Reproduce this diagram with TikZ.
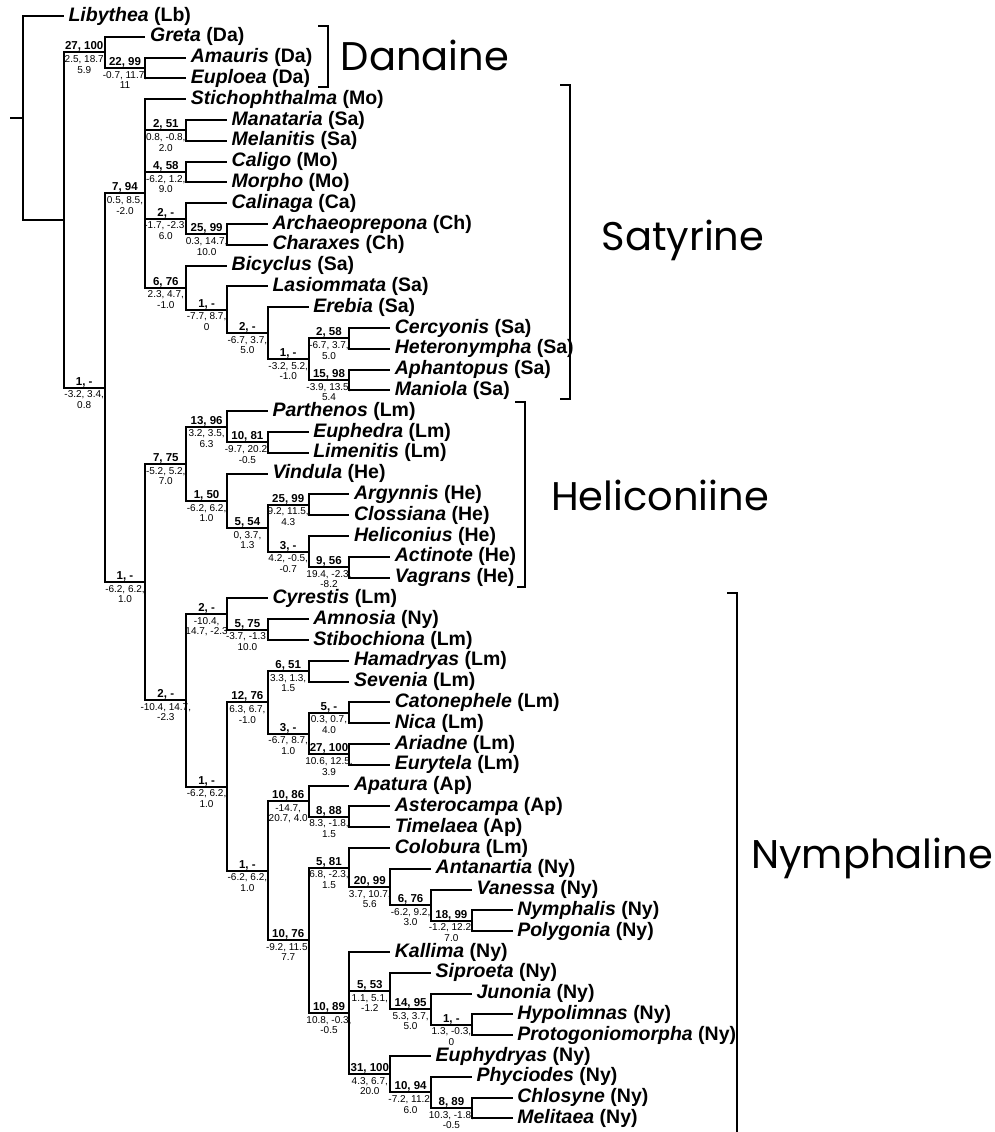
\documentclass[tikz,border=0pt]{standalone}
\usepackage{fontspec}
\setmainfont{Liberation Sans}
\newfontfamily\cladefont{Poppins}
\usetikzlibrary{calc}
\tikzset{
  br/.style={line width=2pt, line join=miter},
  bk/.style={line width=2pt},
  leaf/.style={anchor=west, inner xsep=4.5pt, inner ysep=0pt, font=\fontsize{19.5}{20}\selectfont\bfseries},
  sup/.style={anchor=base, inner sep=0pt, yshift=2.5pt, font=\fontsize{11.5}{12}\selectfont\bfseries},
  num/.style={anchor=north, inner sep=0pt, yshift=-3pt, align=center, font=\fontsize{10}{10.5}\selectfont},
  clade/.style={inner sep=0pt, font=\cladefont\fontsize{40}{40}\selectfont}
}
\newcommand\lf[5]{\node[leaf] (#1) at ({23+40.8*#2},{16+20.8*(#3-1)}) {\textit{#4} (#5)};}
\newcommand\nd[4]{\path ($(#3)!.5!(#4)$) coordinate (m#1); \coordinate (#1) at (X#2 |- m#1);}
\newcommand\ed[2]{\draw[br] (#1) |- (#2);}
\newcommand\lab[3]{\path (#1) ++(-20.4,0) node[sup] (#1s) {#2} node[num] (#1n) {#3};}
\begin{document}
\begin{tikzpicture}[x=1pt,y=-1pt]
\useasboundingbox (0,0) rectangle (995,1132);
\fill[white] (0,0) rectangle (995,1132);
\foreach \k in {0,...,12} {\coordinate (X\k) at ({23+40.8*\k},0);}
% leaves
\lf{libythea}{1}{1}{Libythea}{Lb}
\lf{greta}{3}{2}{Greta}{Da}
\lf{amauris}{4}{3}{Amauris}{Da}
\lf{euploea}{4}{4}{Euploea}{Da}
\lf{stich}{4}{5}{Stichophthalma}{Mo}
\lf{manataria}{5}{6}{Manataria}{Sa}
\lf{melanitis}{5}{7}{Melanitis}{Sa}
\lf{caligo}{5}{8}{Caligo}{Mo}
\lf{morpho}{5}{9}{Morpho}{Mo}
\lf{calinaga}{5}{10}{Calinaga}{Ca}
\lf{archaeo}{6}{11}{Archaeoprepona}{Ch}
\lf{charaxes}{6}{12}{Charaxes}{Ch}
\lf{bicyclus}{5}{13}{Bicyclus}{Sa}
\lf{lasiommata}{6}{14}{Lasiommata}{Sa}
\lf{erebia}{7}{15}{Erebia}{Sa}
\lf{cercyonis}{9}{16}{Cercyonis}{Sa}
\lf{heteronympha}{9}{17}{Heteronympha}{Sa}
\lf{aphantopus}{9}{18}{Aphantopus}{Sa}
\lf{maniola}{9}{19}{Maniola}{Sa}
\lf{parthenos}{6}{20}{Parthenos}{Lm}
\lf{euphedra}{7}{21}{Euphedra}{Lm}
\lf{limenitis}{7}{22}{Limenitis}{Lm}
\lf{vindula}{6}{23}{Vindula}{He}
\lf{argynnis}{8}{24}{Argynnis}{He}
\lf{clossiana}{8}{25}{Clossiana}{He}
\lf{heliconius}{8}{26}{Heliconius}{He}
\lf{actinote}{9}{27}{Actinote}{He}
\lf{vagrans}{9}{28}{Vagrans}{He}
\lf{cyrestis}{6}{29}{Cyrestis}{Lm}
\lf{amnosia}{7}{30}{Amnosia}{Ny}
\lf{stibochiona}{7}{31}{Stibochiona}{Lm}
\lf{hamadryas}{8}{32}{Hamadryas}{Lm}
\lf{sevenia}{8}{33}{Sevenia}{Lm}
\lf{catonephele}{9}{34}{Catonephele}{Lm}
\lf{nica}{9}{35}{Nica}{Lm}
\lf{ariadne}{9}{36}{Ariadne}{Lm}
\lf{eurytela}{9}{37}{Eurytela}{Lm}
\lf{apatura}{8}{38}{Apatura}{Ap}
\lf{asterocampa}{9}{39}{Asterocampa}{Ap}
\lf{timelaea}{9}{40}{Timelaea}{Ap}
\lf{colobura}{9}{41}{Colobura}{Lm}
\lf{antanartia}{10}{42}{Antanartia}{Ny}
\lf{vanessa}{11}{43}{Vanessa}{Ny}
\lf{nymphalis}{12}{44}{Nymphalis}{Ny}
\lf{polygonia}{12}{45}{Polygonia}{Ny}
\lf{kallima}{9}{46}{Kallima}{Ny}
\lf{siproeta}{10}{47}{Siproeta}{Ny}
\lf{junonia}{11}{48}{Junonia}{Ny}
\lf{hypolimnas}{12}{49}{Hypolimnas}{Ny}
\lf{protogonio}{12}{50}{Protogoniomorpha}{Ny}
\lf{euphydryas}{10}{51}{Euphydryas}{Ny}
\lf{phyciodes}{11}{52}{Phyciodes}{Ny}
\lf{chlosyne}{12}{53}{Chlosyne}{Ny}
\lf{melitaea}{12}{54}{Melitaea}{Ny}
% internal nodes (post-order)
\nd{dA}{3}{amauris}{euploea}
\nd{dB}{2}{greta}{dA}
\nd{sA}{4}{manataria}{melanitis}
\nd{sB}{4}{caligo}{morpho}
\nd{sC}{5}{archaeo}{charaxes}
\nd{sD}{4}{calinaga}{sC}
\nd{sE}{8}{cercyonis}{heteronympha}
\nd{sF}{8}{aphantopus}{maniola}
\nd{sG}{7}{sE}{sF}
\nd{sH}{6}{erebia}{sG}
\nd{sI}{5}{lasiommata}{sH}
\nd{sJ}{4}{bicyclus}{sI}
\nd{sK}{3}{stich}{sJ}
\nd{hA}{6}{euphedra}{limenitis}
\nd{hB}{5}{parthenos}{hA}
\nd{hC}{7}{argynnis}{clossiana}
\nd{hD}{8}{actinote}{vagrans}
\nd{hE}{7}{heliconius}{hD}
\nd{hF}{6}{hC}{hE}
\nd{hG}{5}{vindula}{hF}
\nd{hH}{4}{hB}{hG}
\nd{yA}{6}{amnosia}{stibochiona}
\nd{yB}{5}{cyrestis}{yA}
\nd{yC}{7}{hamadryas}{sevenia}
\nd{yD}{8}{catonephele}{nica}
\nd{yE}{8}{ariadne}{eurytela}
\nd{yF}{7}{yD}{yE}
\nd{yG}{6}{yC}{yF}
\nd{yH}{8}{asterocampa}{timelaea}
\nd{yI}{7}{apatura}{yH}
\nd{yJ}{11}{nymphalis}{polygonia}
\nd{yK}{10}{vanessa}{yJ}
\nd{yL}{9}{antanartia}{yK}
\nd{yM}{8}{colobura}{yL}
\nd{yN}{11}{hypolimnas}{protogonio}
\nd{yO}{10}{junonia}{yN}
\nd{yP}{9}{siproeta}{yO}
\nd{yQ}{11}{chlosyne}{melitaea}
\nd{yR}{10}{phyciodes}{yQ}
\nd{yS}{9}{euphydryas}{yR}
\nd{yT}{8}{kallima}{yS}
\nd{yU}{7}{yM}{yT}
\nd{yV}{6}{yI}{yU}
\nd{yW}{5}{yG}{yV}
\nd{yX}{4}{yB}{yW}
\nd{cA}{3}{hH}{yX}
\nd{bA}{2}{sK}{cA}
\nd{aA}{1}{dB}{bA}
\nd{root}{0}{libythea}{aA}
\coordinate (stub) at ($(root)+(-13,0)$);
% edges
\draw[br] (stub) -- (root);
\ed{root}{libythea}\ed{root}{aA}
\ed{aA}{dB}\ed{aA}{bA}
\ed{dB}{greta}\ed{dB}{dA}
\ed{dA}{amauris}\ed{dA}{euploea}
\ed{bA}{sK}\ed{bA}{cA}
\ed{sK}{stich}\ed{sK}{sA}\ed{sK}{sB}\ed{sK}{sD}\ed{sK}{sJ}
\ed{sA}{manataria}\ed{sA}{melanitis}
\ed{sB}{caligo}\ed{sB}{morpho}
\ed{sD}{calinaga}\ed{sD}{sC}
\ed{sC}{archaeo}\ed{sC}{charaxes}
\ed{sJ}{bicyclus}\ed{sJ}{sI}
\ed{sI}{lasiommata}\ed{sI}{sH}
\ed{sH}{erebia}\ed{sH}{sG}
\ed{sG}{sE}\ed{sG}{sF}
\ed{sE}{cercyonis}\ed{sE}{heteronympha}
\ed{sF}{aphantopus}\ed{sF}{maniola}
\ed{cA}{hH}\ed{cA}{yX}
\ed{hH}{hB}\ed{hH}{hG}
\ed{hB}{parthenos}\ed{hB}{hA}
\ed{hA}{euphedra}\ed{hA}{limenitis}
\ed{hG}{vindula}\ed{hG}{hF}
\ed{hF}{hC}\ed{hF}{hE}
\ed{hC}{argynnis}\ed{hC}{clossiana}
\ed{hE}{heliconius}\ed{hE}{hD}
\ed{hD}{actinote}\ed{hD}{vagrans}
\ed{yX}{yB}\ed{yX}{yW}
\ed{yB}{cyrestis}\ed{yB}{yA}
\ed{yA}{amnosia}\ed{yA}{stibochiona}
\ed{yW}{yG}\ed{yW}{yV}
\ed{yG}{yC}\ed{yG}{yF}
\ed{yC}{hamadryas}\ed{yC}{sevenia}
\ed{yF}{yD}\ed{yF}{yE}
\ed{yD}{catonephele}\ed{yD}{nica}
\ed{yE}{ariadne}\ed{yE}{eurytela}
\ed{yV}{yI}\ed{yV}{yU}
\ed{yI}{apatura}\ed{yI}{yH}
\ed{yH}{asterocampa}\ed{yH}{timelaea}
\ed{yU}{yM}\ed{yU}{yT}
\ed{yM}{colobura}\ed{yM}{yL}
\ed{yL}{antanartia}\ed{yL}{yK}
\ed{yK}{vanessa}\ed{yK}{yJ}
\ed{yJ}{nymphalis}\ed{yJ}{polygonia}
\ed{yT}{kallima}\ed{yT}{yP}\ed{yT}{yS}
\ed{yP}{siproeta}\ed{yP}{yO}
\ed{yO}{junonia}\ed{yO}{yN}
\ed{yN}{hypolimnas}\ed{yN}{protogonio}
\ed{yS}{euphydryas}\ed{yS}{yR}
\ed{yR}{phyciodes}\ed{yR}{yQ}
\ed{yQ}{chlosyne}\ed{yQ}{melitaea}
% branch labels
\lab{dB}{27, 100}{2.5, 18.7\\5.9}
\lab{dA}{22, 99}{-0.7, 11.7,\\11}
\lab{bA}{1, -}{-3.2, 3.4,\\0.8}
\lab{sK}{7, 94}{0.5, 8.5,\\-2.0}
\lab{sA}{2, 51}{0.8, -0.8,\\2.0}
\lab{sB}{4, 58}{-6.2, 1.2,\\9.0}
\lab{sD}{2, -}{-1.7, -2.3,\\6.0}
\lab{sC}{25, 99}{0.3, 14.7,\\10.0}
\lab{sJ}{6, 76}{2.3, 4.7,\\-1.0}
\lab{sI}{1, -}{-7.7, 8.7,\\0}
\lab{sH}{2, -}{-6.7, 3.7,\\5.0}
\lab{sG}{1, -}{-3.2, 5.2,\\-1.0}
\lab{sE}{2, 58}{-6.7, 3.7,\\5.0}
\lab{sF}{15, 98}{-3.9, 13.5,\\5.4}
\lab{cA}{1, -}{-6.2, 6.2,\\1.0}
\lab{hH}{7, 75}{-5.2, 5.2,\\7.0}
\lab{hB}{13, 96}{3.2, 3.5,\\6.3}
\lab{hA}{10, 81}{-9.7, 20.2,\\-0.5}
\lab{hG}{1, 50}{-6.2, 6.2,\\1.0}
\lab{hF}{5, 54}{0, 3.7,\\1.3}
\lab{hC}{25, 99}{9.2, 11.5,\\4.3}
\lab{hE}{3, -}{4.2, -0.5,\\-0.7}
\lab{hD}{9, 56}{19.4, -2.3,\\-8.2}
\lab{yX}{2, -}{-10.4, 14.7,\\-2.3}
\lab{yB}{2, -}{-10.4,\\14.7, -2.3}
\lab{yA}{5, 75}{-3.7, -1.3,\\10.0}
\lab{yW}{1, -}{-6.2, 6.2,\\1.0}
\lab{yG}{12, 76}{6.3, 6.7,\\-1.0}
\lab{yC}{6, 51}{3.3, 1.3,\\1.5}
\lab{yF}{3, -}{-6.7, 8.7,\\1.0}
\lab{yD}{5, -}{0.3, 0.7,\\4.0}
\lab{yE}{27, 100}{10.6, 12.5,\\3.9}
\lab{yV}{1, -}{-6.2, 6.2,\\1.0}
\lab{yI}{10, 86}{-14.7,\\20.7, 4.0}
\lab{yH}{8, 88}{8.3, -1.8,\\1.5}
\lab{yU}{10, 76}{-9.2, 11.5,\\7.7}
\lab{yM}{5, 81}{6.8, -2.3,\\1.5}
\lab{yL}{20, 99}{3.7, 10.7,\\5.6}
\lab{yK}{6, 76}{-6.2, 9.2,\\3.0}
\lab{yJ}{18, 99}{-1.2, 12.2,\\7.0}
\lab{yT}{10, 89}{10.8, -0.3,\\-0.5}
\lab{yP}{5, 53}{1.1, 5.1,\\-1.2}
\lab{yO}{14, 95}{5.3, 3.7,\\5.0}
\lab{yN}{1, -}{1.3, -0.3,\\0}
\lab{yS}{31, 100}{4.3, 6.7,\\20.0}
\lab{yR}{10, 94}{-7.2, 11.2,\\6.0}
\lab{yQ}{8, 89}{10.3, -1.8,\\-0.5}
% clade brackets
\coordinate (da1) at (318,26); \coordinate (da2) at (328,26);
\coordinate (da3) at (328,87); \coordinate (da4) at (318,87);
\draw[bk] (da1) -- (da2) -- (da3) -- (da4);
\coordinate (sa1) at (560,85); \coordinate (sa2) at (570,85);
\coordinate (sa3) at (570,399); \coordinate (sa4) at (560,399);
\draw[bk] (sa1) -- (sa2) -- (sa3) -- (sa4);
\coordinate (he1) at (515,402); \coordinate (he2) at (525,402);
\coordinate (he3) at (525,587); \coordinate (he4) at (517,587);
\draw[bk] (he1) -- (he2) -- (he3) -- (he4);
\coordinate (ny1) at (727,593); \coordinate (ny2) at (737,593);
\coordinate (ny3) at (737,1132);
\draw[bk] (ny1) -- (ny2) -- (ny3);
\node[clade] (danaine) at (425,55) {Danaine};
\node[clade] (satyrine) at (683,240) {Satyrine};
\node[clade] (heliconiine) at (660,495) {Heliconiine};
\node[clade] (nymphaline) at (872,858) {Nymphaline};
\end{tikzpicture}
\end{document}
